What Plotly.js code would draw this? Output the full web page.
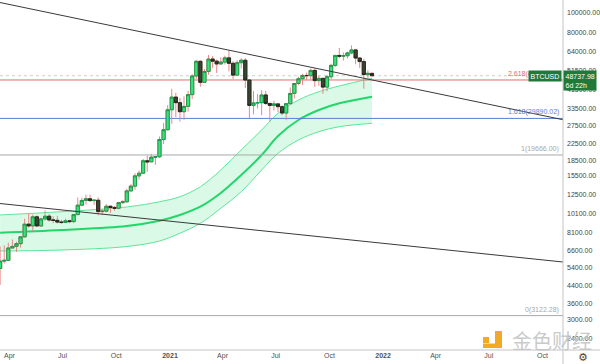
<!DOCTYPE html>
<html>
<head>
<meta charset="utf-8">
<script src="https://cdn.plot.ly/plotly-3.0.1.min.js"></script>
<style>html,body{margin:0;padding:0;background:#fff;}#chart{width:600px;height:364px;}</style>
</head>
<body>
<div id="chart"></div>
<script>
// ---- weekly BTCUSD candles ----
const weekDates = [
'2020-03-16','2020-03-23','2020-03-30','2020-04-06','2020-04-13','2020-04-20','2020-04-27','2020-05-04','2020-05-11','2020-05-18',
'2020-05-25','2020-06-01','2020-06-08','2020-06-15','2020-06-22','2020-06-29','2020-07-06','2020-07-13','2020-07-20','2020-07-27',
'2020-08-03','2020-08-10','2020-08-17','2020-08-24','2020-08-31','2020-09-07','2020-09-14','2020-09-21','2020-09-28','2020-10-05',
'2020-10-12','2020-10-19','2020-10-26','2020-11-02','2020-11-09','2020-11-16','2020-11-23','2020-11-30','2020-12-07','2020-12-14',
'2020-12-21','2020-12-28',
'2021-01-04','2021-01-11','2021-01-18','2021-01-25','2021-02-01','2021-02-08','2021-02-15','2021-02-22','2021-03-01','2021-03-08',
'2021-03-15','2021-03-22','2021-03-29','2021-04-05','2021-04-12','2021-04-19','2021-04-26','2021-05-03','2021-05-10','2021-05-17',
'2021-05-24','2021-05-31','2021-06-07','2021-06-14','2021-06-21','2021-06-28','2021-07-05','2021-07-12','2021-07-19','2021-07-26',
'2021-08-02','2021-08-09','2021-08-16','2021-08-23','2021-08-30','2021-09-06','2021-09-13','2021-09-20','2021-09-27','2021-10-04',
'2021-10-11','2021-10-18','2021-10-25','2021-11-01','2021-11-08','2021-11-15','2021-11-22','2021-11-29','2021-12-06','2021-12-13'];

const openVals = [
5360,5830,5880,6775,6900,7120,7700,8900,8725,9680,8720,9450,9750,9340,9300,9120,9070,9250,9170,9930,
11070,11680,11910,11660,11710,10280,10330,10930,10780,10680,11390,11500,13030,13760,15480,15960,18400,18180,19170,19270,
23480,26270,
33000,38150,35800,32280,34300,39250,48600,57500,45200,51200,59000,57600,55800,57000,59800,56200,49100,56600,
58200,46400,34700,35700,35800,39100,35500,34700,35300,34200,31800,35400,39800,44600,47100,48900,48800,51800,
46100,47300,42800,48200,54900,61500,61000,61300,63300,65500,59700,57300,49400,50100];

const highVals = [
6900,6990,7200,7470,7290,7740,9470,10070,9940,9840,9600,10430,10000,9730,9800,9350,9480,9350,9990,12090,
12060,12480,12490,11800,12090,10580,11180,10970,10950,11490,11720,13350,14070,15970,16480,18800,19480,19920,19420,24300,
28400,34800,
41950,40100,37850,38500,41000,49700,58350,58000,52640,61800,61000,58600,60200,61300,64900,57500,58400,59600,
59600,46600,40900,39500,41300,41000,35700,36600,35400,34700,35400,42600,44900,48200,49800,50500,52900,52900,
48800,47300,49200,56000,62000,67000,63700,64300,69000,66300,59700,59100,51900,50200];

const lowVals = [
4440,5670,5860,6750,6470,6800,7620,8560,8200,8800,8630,9270,9180,9000,8970,8940,9040,9000,9000,9900,
10930,11130,11500,11130,9850,9880,10200,10140,10380,10550,11220,11400,12950,13200,14840,15800,16200,18100,17570,19000,
22300,26000,
28130,30300,28800,29400,32300,37350,47000,43000,44950,49300,53300,50300,55500,55400,51300,47000,48800,53000,
42300,30000,31300,33500,31000,34800,28800,32700,32100,31000,29300,35200,37600,43800,43900,46300,46500,42800,
43400,39600,40800,46900,53900,59500,58000,59500,62300,55600,53200,42000,47300,48600];

const closeVals = [
5830,5880,6775,6900,7120,7700,8900,8725,9680,8720,9450,9750,9340,9300,9120,9070,9250,9170,9930,11070,
11680,11910,11660,11710,10280,10330,10930,10780,10680,11390,11500,13030,13760,15480,15960,18400,18180,19170,19270,23480,
26270,33000,
38150,35800,32280,34300,39250,48600,57500,45200,51200,59000,57600,55800,57000,59800,56200,49100,56600,58200,
46400,34700,35700,35800,39100,35500,34700,35300,34200,31800,35400,39800,44600,47100,48900,48800,51800,46100,
47300,42800,48200,54900,61500,61000,61300,63300,65500,59700,57300,49400,50100,48737.98];

// ---- regression / bollinger style band ----
const bandDates = ['2020-03-16','2020-06-29','2020-10-19','2020-12-14','2021-01-18','2021-02-22','2021-03-29',
                   '2021-05-03','2021-06-07','2021-07-05','2021-08-09','2021-09-13','2021-10-18','2021-12-13'];
const bandUpper = [9890,10270,10840,11510,12190,13670,16560,20820,26180,31700,36920,40600,43340,47330];
const bandMid   = [8070,8330,8720,9260,9890,10870,12720,15630,19660,24440,29360,32920,35530,38340];
const bandLower = [6545,6620,6890,7340,8020,8990,10680,12910,16560,20050,23350,25670,27180,28260];

// ---- fibonacci levels ----
const fibLevels = ['0','1','1.618','2.618'];
const fibValues = [3122.28,19666.00,29890.02,46433.74];
const fibColors = ['#a8a8a8','#a8a8a8','#5b7fd6','#e06c6c'];

// ---- trend lines ----
const trend1Dates = ['2020-03-15 19:00','2022-11-05 05:00'];
const trend1Values = [112760,29450];
const trend2Dates = ['2020-03-15 19:00','2022-11-05 05:00'];
const trend2Values = [11276,5770];

// ---- axes ----
const xRange = ['2020-03-15 19:00','2022-11-05 05:00'];
const yRangeLog = [3.3234,5.0647];
const xTickVals = ['2020-04-01','2020-07-01','2020-10-01','2021-01-01','2021-04-01','2021-07-01','2021-10-01','2022-01-01','2022-04-01','2022-07-01','2022-10-01'];
const xTickText = ['Apr','Jul','Oct','<b>2021</b>','Apr','Jul','Oct','<b>2022</b>','Apr','Jul','Oct'];
const yTickVals = [100000,80000,64000,51500,41500,33500,27500,22500,18500,15500,12500,10100,8100,6600,5400,4400,3600,3000,2400];
const yTickText = yTickVals.map(v => v.toFixed(2));

const lastPrice = closeVals[closeVals.length-1];
const symbol = 'BTCUSD';
const countdown = '6d 22h';

const bodyHigh = openVals.map((o,i)=>Math.max(o,closeVals[i]));
const bodyLow  = openVals.map((o,i)=>Math.min(o,closeVals[i]));

const wickColor = '#e8878a';
const traces = [
  {type:'scatter', x:bandDates, y:bandLower, mode:'lines', line:{color:'#5ee598', width:1, shape:'spline', smoothing:1}, hoverinfo:'skip'},
  {type:'scatter', x:bandDates, y:bandUpper, mode:'lines', fill:'tonexty', fillcolor:'rgba(60,225,130,0.19)', line:{color:'#5ee598', width:1, shape:'spline', smoothing:1}, hoverinfo:'skip'},
  {type:'scatter', x:bandDates, y:bandMid, mode:'lines', line:{color:'#22d66a', width:2, shape:'spline', smoothing:1}, hoverinfo:'skip'},
];
fibValues.forEach((v,i)=>{
  traces.push({type:'scatter', x:xRange, y:[v,v], mode:'lines', line:{color:fibColors[i], width:1}, hoverinfo:'skip'});
});
traces.push({type:'scatter', x:xRange, y:[lastPrice,lastPrice], mode:'lines', line:{color:'rgba(110,180,140,0.5)', width:1, dash:'dot'}, hoverinfo:'skip'});

// candles on overlaying axes so they sit above the band
traces.push({type:'candlestick', x:weekDates, open:openVals, high:highVals, low:lowVals, close:closeVals,
  xaxis:'x2', yaxis:'y2', whiskerwidth:0,
  increasing:{line:{color:wickColor, width:1}, fillcolor:wickColor},
  decreasing:{line:{color:wickColor, width:1}, fillcolor:wickColor}, hoverinfo:'skip'});
traces.push({type:'candlestick', x:weekDates, open:openVals, high:bodyHigh, low:bodyLow, close:closeVals,
  xaxis:'x2', yaxis:'y2', whiskerwidth:0,
  increasing:{line:{color:'#1f9a4c', width:1}, fillcolor:'#3ae07a'},
  decreasing:{line:{color:'#232b1e', width:1}, fillcolor:'#3a4532'}, hoverinfo:'skip'});
traces.push({type:'scatter', x:trend1Dates, y:trend1Values, mode:'lines', xaxis:'x2', yaxis:'y2', line:{color:'#3a3a3a', width:1}, hoverinfo:'skip'});
traces.push({type:'scatter', x:trend2Dates, y:trend2Values, mode:'lines', xaxis:'x2', yaxis:'y2', line:{color:'#3a3a3a', width:1}, hoverinfo:'skip'});

const fnt = 'Liberation Sans, Arial, sans-serif';
const annotations = [];
fibValues.forEach((v,i)=>{
  annotations.push({xref:'paper', yref:'y', x:560/563, y:Math.log10(v), xanchor:'right', yanchor:'bottom',
    text: fibLevels[i] + '(' + v.toFixed(2) + ')', showarrow:false, font:{size:7, color:fibColors[i], family:fnt}, borderpad:0, yshift:1});
});
annotations.push({xref:'paper', yref:'y', x:562/563, y:Math.log10(lastPrice), xanchor:'right', yanchor:'middle',
  text:symbol, showarrow:false, bgcolor:'#1f7a3a', font:{size:7, color:'#fff', family:fnt}, borderpad:1.5});
annotations.push({xref:'paper', yref:'y', x:1, y:Math.log10(lastPrice), xanchor:'left', yanchor:'top', yshift:6,
  text:lastPrice.toFixed(2)+'<br>'+countdown, align:'left', showarrow:false, bgcolor:'#1f7a3a', font:{size:7, color:'#fff', family:fnt}, borderpad:1.5});
annotations.push({xref:'paper', yref:'paper', x:552/563, y:(350-340)/350, xanchor:'center', yanchor:'middle',
  text:'金色财经', showarrow:false, font:{size:20, color:'rgba(195,195,195,0.9)', family:'Noto Sans CJK SC'}});
annotations.push({xref:'paper', yref:'paper', x:583/563, y:(350-357)/350, xanchor:'center', yanchor:'middle',
  text:'⚙', showarrow:false, font:{size:11, color:'#444', family:'DejaVu Sans'}});

const px = v => v/563, py = v => (350-v)/350;
const shapes = [
  {type:'line', xref:'paper', yref:'paper', x0:1, x1:1, y0:py(364), y1:1, line:{color:'#c4c4c4', width:1}},
  {type:'line', xref:'paper', yref:'paper', x0:0, x1:px(600), y0:0, y1:0, line:{color:'#c4c4c4', width:1}},
  {type:'rect', xref:'paper', yref:'paper', x0:px(483), x1:px(489), y0:py(343), y1:py(337), fillcolor:'#f4a925', line:{width:0}},
  {type:'rect', xref:'paper', yref:'paper', x0:px(495), x1:px(502), y0:py(348), y1:py(331), fillcolor:'#f4a925', line:{width:0}},
  {type:'rect', xref:'paper', yref:'paper', x0:px(483), x1:px(502), y0:py(348), y1:py(343.5), fillcolor:'#f4a925', line:{width:0}},
];

const layout = {
  width:600, height:364,
  margin:{l:0, r:37, t:0, b:14, pad:0},
  paper_bgcolor:'#ffffff', plot_bgcolor:'#ffffff',
  showlegend:false,
  boxgap:0.12, boxgroupgap:0.12,
  xaxis:{type:'date', range:xRange, showgrid:false, zeroline:false, showline:false, ticks:'',
    tickvals:xTickVals, ticktext:xTickText, tickfont:{size:7, color:'#505050', family:fnt},
    rangeslider:{visible:false}, fixedrange:true},
  yaxis:{type:'log', side:'right', range:yRangeLog, showgrid:false, zeroline:false, showline:false, ticks:'',
    tickvals:yTickVals, ticktext:yTickText, tickfont:{size:7, color:'#454545', family:fnt}, ticklabelstandoff:3, fixedrange:true},
  xaxis2:{type:'date', overlaying:'x', range:xRange, visible:false, rangeslider:{visible:false}, fixedrange:true},
  yaxis2:{type:'log', overlaying:'y', side:'right', range:yRangeLog, visible:false, fixedrange:true},
  shapes:shapes,
  annotations:annotations
};

Plotly.newPlot('chart', traces, layout, {staticPlot:true, displayModeBar:false});
</script>
</body>
</html>
